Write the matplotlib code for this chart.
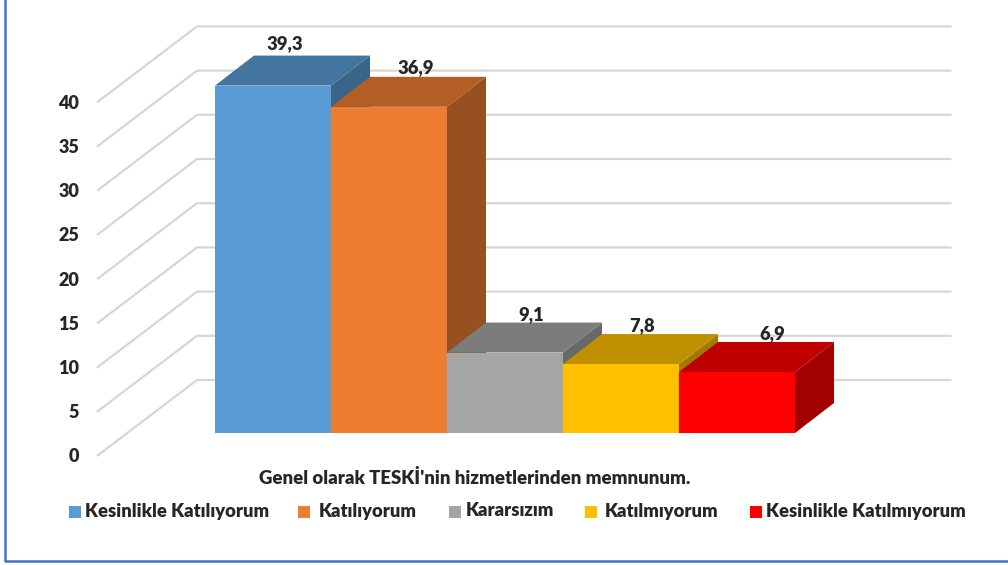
import matplotlib
matplotlib.use("Agg")
import matplotlib.pyplot as plt
from matplotlib.patches import Polygon, Rectangle

categories = ["Kesinlikle Katılıyorum", "Katılıyorum", "Kararsızım", "Katılmıyorum", "Kesinlikle Katılmıyorum"]
values = [39.3, 36.9, 9.1, 7.8, 6.9]
value_labels = ["39,3", "36,9", "9,1", "7,8", "6,9"]
y_ticks = [0, 5, 10, 15, 20, 25, 30, 35, 40]
axis_title = "Genel olarak TESKİ'nin hizmetlerinden memnunum."
front_colors = ["#5B9BD5", "#ED7D31", "#A5A5A5", "#FFC000", "#FF0000"]
top_colors = ["#4474A0", "#B25E25", "#7C7C7C", "#BF9000", "#BF0000"]
side_colors = ["#3A6588", "#97501F", "#696969", "#A37B00", "#A30000"]

W, H = 1008, 565
PX_X, PX_Y = 116.0, 8.84      # pixels per category / per value unit
X0, Y0 = 215.0, 433.0         # pixel position of the bars' origin
TXT = "#262626"
WEIGHT = "heavy"
plt.rcParams["font.family"] = ["Lato", "DejaVu Sans"]

fig = plt.figure(figsize=(W / 100, H / 100), dpi=100, facecolor="white")
ax = fig.add_axes([0, 0, 1, 1])
ax.set_xlim(-X0 / PX_X, (W - X0) / PX_X)
ax.set_ylim(-(H - Y0) / PX_Y, Y0 / PX_Y)
ax.axis("off")

# perspective offsets in data units
dx, dy = 39 / PX_X, 30 / PX_Y
wall_x, wall_dy = -18 / PX_X, 53 / PX_Y
left_x, left_dy = -118 / PX_X, -23 / PX_Y
right_x = (951.5 - X0) / PX_X

for v in y_ticks:
    ax.plot([left_x, wall_x, right_x], [v + left_dy, v + wall_dy, v + wall_dy],
            color="#D6D6D6", lw=1.6, solid_joinstyle="miter", solid_capstyle="butt", zorder=1)
    ax.text(left_x - 18 / PX_X, v + left_dy - 0.1, str(v), ha="right", va="center",
            fontsize=13, fontweight=WEIGHT, color=TXT, zorder=5)

nudges = [(12, 42), (27, 39), (26, 38), (21, 38), (35, 38)]   # label offset from bar top, px
for i, (v, lab) in enumerate(zip(values, value_labels)):
    z = 2 + i * 0.1
    ax.add_patch(Polygon([(i + 1, 0), (i + 1 + dx, dy), (i + 1 + dx, v + dy), (i + 1, v)],
                         closed=True, fc=side_colors[i], ec="none", zorder=z))
    ax.add_patch(Polygon([(i, v), (i + dx, v + dy), (i + 1 + dx, v + dy), (i + 1, v)],
                         closed=True, fc=top_colors[i], ec="none", zorder=z))
    ax.bar(i + 0.5, v, width=1.0, color=front_colors[i], linewidth=0, zorder=z + 0.01)
    ax.annotate(lab, (i + 0.5, v), xytext=(nudges[i][0] * 0.72, nudges[i][1] * 0.72),
                textcoords="offset points", ha="center", va="center",
                fontsize=13.2, fontweight=WEIGHT, color=TXT, zorder=6)

fig.text(474.5 / W, 1 - 478 / H, axis_title, ha="center", va="center",
         fontsize=13.4, fontweight=WEIGHT, color=TXT)

swatch_x = [69, 298, 449, 585, 750]
label_x = [85, 319, 466, 605, 766]
for c, col, sx, tx in zip(categories, front_colors, swatch_x, label_x):
    fig.patches.append(Rectangle((sx / W, 1 - 518 / H), 12 / W, 12 / H, transform=fig.transFigure,
                                 fc=col, ec="none"))
    fig.text(tx / W, 1 - 511 / H, c, ha="left", va="center",
             fontsize=13.2, fontweight=WEIGHT, color=TXT)

# outer frame
bcol = "#4472C4"
fig.add_artist(plt.Line2D([5 / W, 5 / W, 1], [1, 1 - 561 / H, 1 - 561 / H],
                          transform=fig.transFigure, color=bcol, lw=1.8))

fig.savefig("out.png", dpi=100, facecolor="white")
